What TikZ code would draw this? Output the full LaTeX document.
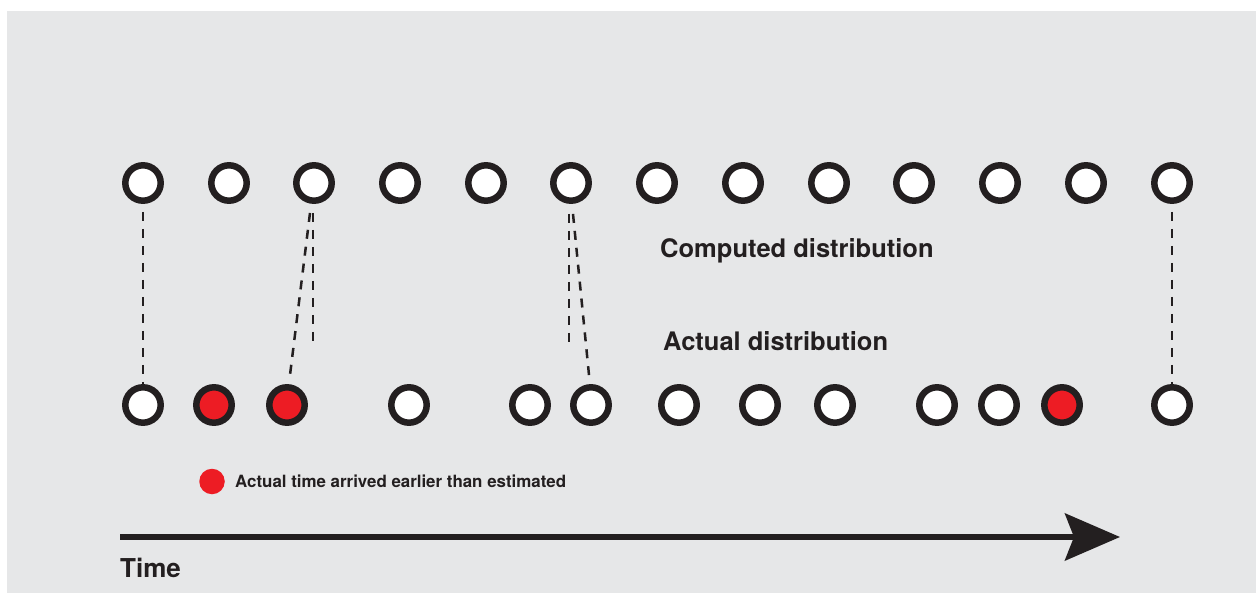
\documentclass[tikz,border=0pt]{standalone}
\usepackage{fontspec}
\setmainfont{TeX Gyre Heros}
\usetikzlibrary{arrows.meta}
\definecolor{panel}{HTML}{E6E7E8}
\definecolor{ink}{HTML}{231F20}
\definecolor{early}{HTML}{ED1C24}
\begin{document}
\begin{tikzpicture}[x=1pt,y=-1pt,
  dot/.style={circle,draw=ink,line width=6.5pt,fill=white,minimum size=35.4pt,inner sep=0pt},
  earlydot/.style={dot,fill=early},
  link/.style={draw=ink,line width=2.5pt,dash pattern=on 9pt off 8pt},
  lbl/.style={anchor=base west,inner sep=0pt,text=ink,font=\bfseries\fontsize{25.5}{30}\selectfont},
  keytext/.style={anchor=base west,inner sep=0pt,text=ink,font=\bfseries\fontsize{16.9}{20}\selectfont},
  axislbl/.style={anchor=base west,inner sep=0pt,text=ink,font=\bfseries\fontsize{26}{30}\selectfont}]
\useasboundingbox (0,0) rectangle (1260,593);
\fill[panel] (7,11) rectangle (1256,593);

% computed distribution (evenly spaced)
\foreach \x [count=\i] in {143,229,314,400,486,571,657,743,829,914,1000,1086,1172}
  \node[dot] (t\i) at (\x,183) {};

% actual distribution
\foreach \x/\s [count=\i] in {143/dot,214/earlydot,287/earlydot,409/dot,530/dot,591/dot,679/dot,760/dot,835/dot,937/dot,999/dot,1062/earlydot,1172/dot}
  \node[\s] (b\i) at (\x,405) {};

% dashed correspondences
\draw[link] ([yshift=-8pt]t1.south) -- (b1.north);
\draw[link] ([xshift=-4pt,yshift=-9pt]t3.south) -- ([xshift=3pt,yshift=9pt]b3.north);
\draw[link] ([xshift=-1pt,yshift=-9pt]t3.south) -- ++(0,132);
\draw[link] ([xshift=-2pt,yshift=-10pt]t6.south) -- ++(0,130);
\draw[link] ([xshift=2pt,yshift=-10pt]t6.south) -- ([xshift=-2pt,yshift=9pt]b6.north);
\draw[link] ([yshift=-8pt]t13.south) -- (b13.north);

% labels
\node[lbl] (computed) at (660,258) {Computed distribution};
\node[lbl] (actual) at (663,350) {Actual distribution};

% legend
\node[circle,fill=early,minimum size=25.5pt,inner sep=0pt] (key) at (212,481.5) {};
\node[keytext] (keylbl) at (235,487) {Actual time arrived earlier than estimated};

% time axis
\coordinate (tstart) at (120,537);
\coordinate (tend) at (1120,537);
\draw[draw=ink,line width=6pt,-{Stealth[length=55pt,width=47pt,inset=9pt,fill=ink]}] (tstart) -- (tend);
\node[axislbl] (timelbl) at (120,577) {Time};
\end{tikzpicture}
\end{document}
